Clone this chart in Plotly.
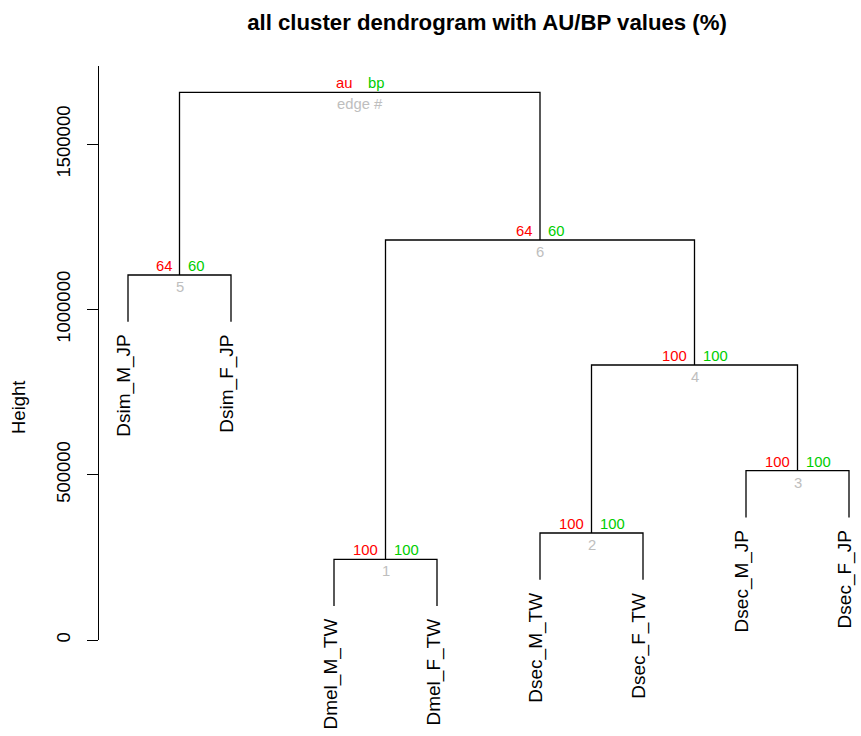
import plotly.graph_objects as go

# ---- data ----
leaf_labels = ["Dsim_M_JP", "Dsim_F_JP", "Dmel_M_TW", "Dmel_F_TW",
               "Dsec_M_TW", "Dsec_F_TW", "Dsec_M_JP", "Dsec_F_JP"]
# R-style merge matrix: negative = leaf (1-based, display order), positive = earlier merge (edge #)
merge_left = [-3, -5, -7, 2, -1, 1, 5]
merge_right = [-4, -6, -8, 3, -2, 4, 6]
merge_height = [244200, 323800, 512300, 832200, 1104500, 1210400, 1657300]
au_values = [100, 100, 100, 100, 64, 64, None]
bp_values = [100, 100, 100, 100, 60, 60, None]
y_ticks = [0, 500000, 1000000, 1500000]
y_tick_text = ["0", "500000", "1000000", "1500000"]

title_text = "all cluster dendrogram with AU/BP values (%)"

FONT = "Liberation Sans, Arial, Helvetica, sans-serif"
AU_COL = "#FF0000"
BP_COL = "#00CD00"
EDGE_COL = "#BEBEBE"

hang = 0.1 * (max(merge_height) - min(merge_height))

node_x = {}
xs, ys = [], []
leaf_bottom = {}


def child_pos(c, parent_h):
    if c < 0:
        x = float(-c)
        yb = parent_h - hang
        leaf_bottom[-c] = yb
        return x, yb
    return node_x[c], merge_height[c - 1]


for i, (l, r) in enumerate(zip(merge_left, merge_right), start=1):
    h = merge_height[i - 1]
    xl, yl = child_pos(l, h)
    xr, yr = child_pos(r, h)
    node_x[i] = (xl + xr) / 2
    xs += [xl, xl, xr, xr, None]
    ys += [yl, h, h, yr, None]

fig = go.Figure()
fig.add_trace(go.Scatter(x=xs, y=ys, mode="lines",
                         line=dict(color="black", width=1.3),
                         hoverinfo="skip", showlegend=False))

ann = []
small = dict(family=FONT, size=14.8)
for i in range(1, len(merge_height) + 1):
    x = node_x[i]
    h = merge_height[i - 1]
    a = au_values[i - 1]
    b = bp_values[i - 1]
    atxt = "au" if a is None else str(a)
    btxt = "bp" if b is None else str(b)
    etxt = "edge #" if a is None else str(i)
    ann.append(dict(x=x, y=h, xref="x", yref="y", text=atxt, showarrow=False,
                    xanchor="right", yanchor="middle", xshift=-6, yshift=9,
                    font=dict(small, color=AU_COL)))
    ann.append(dict(x=x, y=h, xref="x", yref="y", text=btxt, showarrow=False,
                    xanchor="left", yanchor="middle", xshift=6, yshift=9,
                    font=dict(small, color=BP_COL)))
    ann.append(dict(x=x, y=h, xref="x", yref="y", text=etxt, showarrow=False,
                    xanchor="center", yanchor="middle", yshift=-12,
                    font=dict(small, color=EDGE_COL)))

for k, lab in enumerate(leaf_labels, start=1):
    ann.append(dict(x=k, y=leaf_bottom[k], xref="x", yref="y", text=lab,
                    showarrow=False, textangle=-90, xanchor="center",
                    yanchor="top", yshift=-11, xshift=-4,
                    font=dict(family=FONT, size=19, color="black")))

W, H = 861, 736
ML, MR, MT = 99, 0, 66
MB = H - 640
px_per_x = 103.0
x_left = 1 - 29 / px_per_x
x_right = x_left + (W - ML - MR) / px_per_x
units_per_px = 1500000 / (640 - 144.3)
y_top = (640 - 66) * units_per_px

ann.append(dict(x=(18 - ML) / (W - ML - MR),
                y=(H - MB - 408) / (H - MT - MB),
                xref="paper", yref="paper", text="Height", xanchor="center",
                yanchor="middle", showarrow=False, textangle=-90,
                font=dict(family=FONT, size=18.5, color="black")))

fig.update_layout(
    width=W, height=H,
    margin=dict(l=ML, r=MR, t=MT, b=MB, autoexpand=False),
    paper_bgcolor="white", plot_bgcolor="white",
    font=dict(family=FONT, color="black"),
    title=dict(text="<b>" + title_text + "</b>", x=487 / W, xref="container",
               xanchor="center", y=1 - 22 / H, yref="container", yanchor="middle",
               font=dict(family=FONT, size=22.2, color="black")),
    xaxis=dict(range=[x_left, x_right], visible=False, fixedrange=True),
    yaxis=dict(range=[0, y_top], showgrid=False, zeroline=False,
               showline=True, linecolor="black", linewidth=1.3,
               ticks="outside", ticklen=11, tickwidth=1.3, tickcolor="black",
               tickvals=y_ticks, ticktext=y_tick_text, tickangle=-90,
               ticklabelstandoff=9,
               tickfont=dict(family=FONT, size=18.5, color="black"),
               fixedrange=True),
    annotations=ann,
    showlegend=False,
)

fig.write_html(
    "out.html",
    config={"displayModeBar": False},
    post_script="document.body.style.margin='0';document.body.style.overflow='hidden';",
)
